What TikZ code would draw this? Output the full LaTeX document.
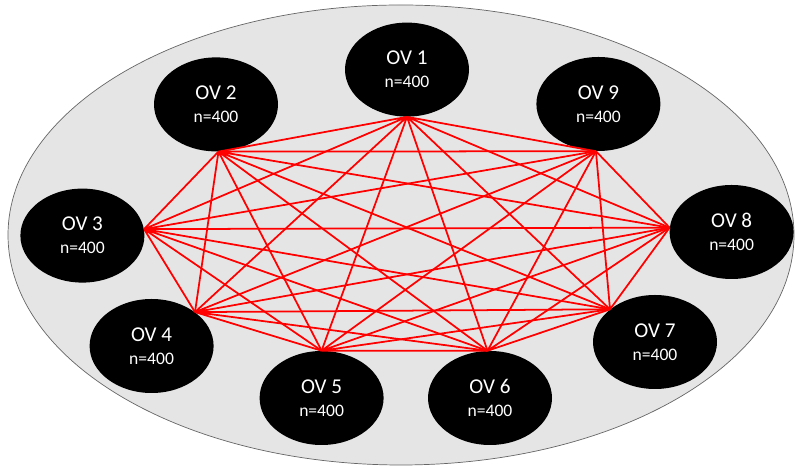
\documentclass[tikz,border=0pt]{standalone}
\usepackage{fontspec}
\setmainfont{Carlito}
\usepackage{xcolor}
\usepackage{tikz}
\usetikzlibrary{positioning, shapes.geometric}

\newcommand{\nsize}{\fontsize{12.5}{16.5}\selectfont}

\begin{document}
\begin{tikzpicture}[
    ov/.style={ellipse, fill=black, text=white, inner sep=0pt,
      minimum width=3.1cm, minimum height=2.35cm, align=center,
      font=\fontsize{15}{16.5}\selectfont},
    link/.style={red, line width=1.25pt}]
    \useasboundingbox (0, 0) rectangle (19.95, 11.7);

    % outer cloud
    \draw[fill=gray!20, draw=black!60, line width=0.5pt] (10.025, 5.825) ellipse (9.825 and 5.75);

    \node[ov] (ov1) at (10.175, 9.96) {OV 1\\ \nsize n=400};
    \node[ov] (ov2) at (5.4, 9.09) {OV 2\\ \nsize n=400};
    \node[ov] (ov3) at (2.06, 5.81) {OV 3\\ \nsize n=400};
    \node[ov] (ov4) at (3.79, 3.05) {OV 4\\ \nsize n=400};
    \node[ov] (ov5) at (8.04, 1.75) {OV 5\\ \nsize n=400};
    \node[ov] (ov6) at (12.25, 1.75) {OV 6\\ \nsize n=400};
    \node[ov] (ov7) at (16.375, 3.15) {OV 7\\ \nsize n=400};
    \node[ov] (ov8) at (18.29, 5.9) {OV 8\\ \nsize n=400};
    \node[ov] (ov9) at (14.96, 9.1) {OV 9\\ \nsize n=400};

    % where the links meet each node
    \coordinate (c1) at (ov1.south);
    \coordinate (c2) at (ov2.-87);
    \coordinate (c3) at (ov3.6);
    \coordinate (c4) at (ov4.38);
    \coordinate (c5) at (ov5.north);
    \coordinate (c6) at (ov6.93);
    \coordinate (c7) at (ov7.144);
    \coordinate (c8) at (ov8.176);
    \coordinate (c9) at (ov9.-93);

    \draw[link] (c1) -- (c2) (c1) -- (c3) (c1) -- (c4) (c1) -- (c5) (c1) -- (c6) (c1) -- (c7) (c1) -- (c8) (c1) -- (c9);
    \draw[link] (c2) -- (c3) (c2) -- (c4) (c2) -- (c5) (c2) -- (c6) (c2) -- (c7) (c2) -- (c8) (c2) -- (c9);
    \draw[link] (c3) -- (c4) (c3) -- (c5) (c3) -- (c6) (c3) -- (c7) (c3) -- (c8) (c3) -- (c9);
    \draw[link] (c4) -- (c5) (c4) -- (c6) (c4) -- (c7) (c4) -- (c8) (c4) -- (c9);
    \draw[link] (c5) -- (c6) (c5) -- (c7) (c5) -- (c8) (c5) -- (c9);
    \draw[link] (c6) -- (c7) (c6) -- (c8) (c6) -- (c9);
    \draw[link] (c7) -- (c8) (c7) -- (c9);
    \draw[link] (c8) -- (c9);
\end{tikzpicture}
\end{document}
